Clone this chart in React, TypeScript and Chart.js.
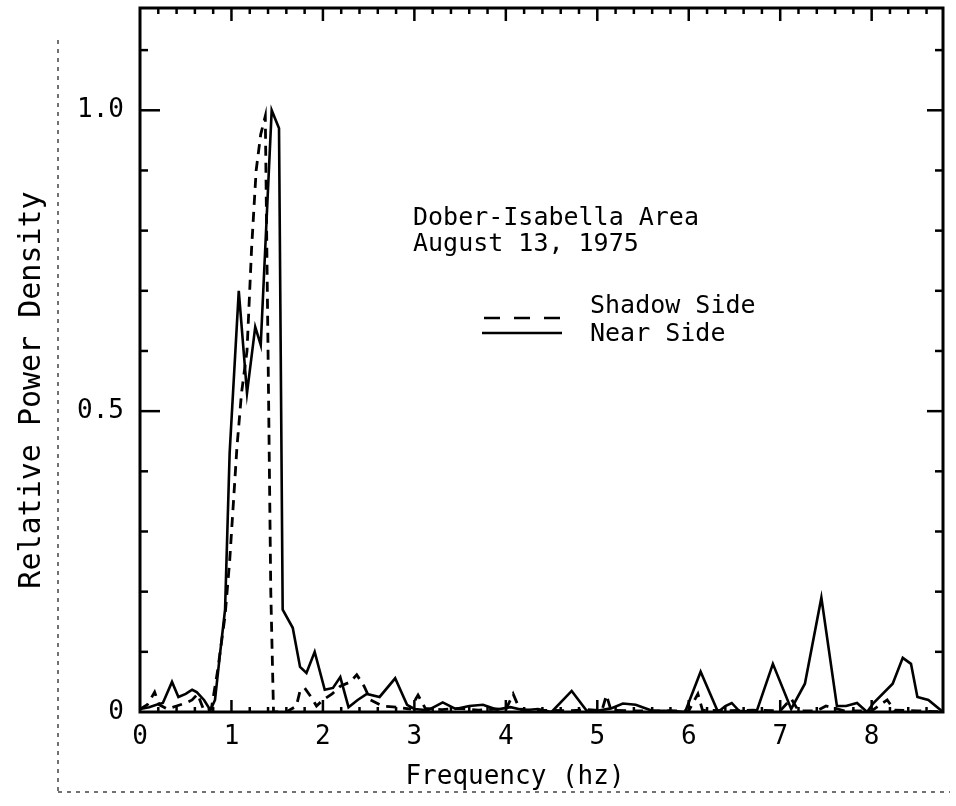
import React, { useEffect, useRef } from "react";
import { Chart, registerables } from "chart.js";

Chart.register(...registerables);

// ---- data ----
const nearFreq = [0, 0.1, 0.18, 0.25, 0.35, 0.42, 0.5, 0.57, 0.62, 0.7, 0.77, 0.82, 0.87, 0.93, 0.98, 1.08, 1.17, 1.26, 1.32, 1.44, 1.52, 1.56, 1.67, 1.75, 1.82, 1.91, 2.02, 2.11, 2.19, 2.28, 2.38, 2.48, 2.62, 2.79, 2.92, 3.0, 3.15, 3.31, 3.45, 3.6, 3.75, 3.9, 4.05, 4.2, 4.35, 4.5, 4.72, 4.88, 5.0, 5.15, 5.28, 5.42, 5.6, 5.8, 5.96, 6.13, 6.32, 6.4, 6.47, 6.55, 6.74, 6.92, 7.12, 7.27, 7.45, 7.62, 7.72, 7.84, 7.95, 8.02, 8.23, 8.34, 8.43, 8.5, 8.62, 8.78];
const nearPower = [0.005, 0.008, 0.012, 0.015, 0.05, 0.025, 0.03, 0.037, 0.033, 0.02, 0.003, 0.02, 0.09, 0.17, 0.43, 0.70, 0.53, 0.64, 0.61, 1.0, 0.97, 0.17, 0.14, 0.075, 0.065, 0.10, 0.037, 0.04, 0.058, 0.008, 0.02, 0.03, 0.025, 0.056, 0.012, 0.005, 0.003, 0.016, 0.005, 0.01, 0.012, 0.004, 0.008, 0.003, 0.005, 0.0, 0.035, 0.003, 0.002, 0.006, 0.014, 0.012, 0.002, 0.002, 0.0, 0.067, 0.0, 0.01, 0.015, 0.002, 0.0, 0.08, 0.005, 0.047, 0.19, 0.01, 0.01, 0.015, 0.0, 0.015, 0.047, 0.09, 0.08, 0.025, 0.02, 0.0];

const shadowFreq = [0, 0.08, 0.16, 0.21, 0.3, 0.4, 0.5, 0.57, 0.63, 0.7, 0.78, 0.85, 0.93, 0.98, 1.06, 1.11, 1.17, 1.22, 1.27, 1.32, 1.37, 1.4, 1.43, 1.46, 1.6, 1.71, 1.75, 1.8, 1.87, 1.93, 2.0, 2.1, 2.19, 2.3, 2.37, 2.45, 2.52, 2.65, 2.8, 2.95, 3.04, 3.12, 3.3, 3.5, 3.7, 3.9, 4.0, 4.08, 4.15, 4.3, 4.5, 4.7, 4.9, 5.05, 5.1, 5.15, 5.4, 5.7, 6.0, 6.1, 6.15, 6.4, 6.7, 7.0, 7.12, 7.2, 7.4, 7.5, 7.7, 8.0, 8.17, 8.25, 8.5, 8.78];
const shadowPower = [0.005, 0.012, 0.033, 0.012, 0.005, 0.01, 0.015, 0.02, 0.03, 0.002, 0.005, 0.07, 0.16, 0.25, 0.44, 0.53, 0.60, 0.77, 0.90, 0.96, 0.99, 0.6, 0.2, 0.0, 0.0, 0.01, 0.035, 0.04, 0.025, 0.01, 0.02, 0.03, 0.043, 0.05, 0.062, 0.043, 0.02, 0.01, 0.008, 0.005, 0.028, 0.006, 0.004, 0.006, 0.003, 0.005, 0.004, 0.03, 0.005, 0.002, 0.003, 0.002, 0.004, 0.002, 0.028, 0.003, 0.002, 0.002, 0.002, 0.03, 0.003, 0.002, 0.003, 0.002, 0.022, 0.002, 0.002, 0.01, 0.002, 0.002, 0.02, 0.003, 0.002, 0.0];

const xTickValues = [0, 1, 2, 3, 4, 5, 6, 7, 8];
const xTickLabels = ["0", "1", "2", "3", "4", "5", "6", "7", "8"];
const yTickValues = [0, 0.5, 1.0];
const yTickLabels = ["0", "0.5", "1.0"];
const seriesNames = ["Shadow Side", "Near Side"];
const noteLines = ["Dober-Isabella Area", "August 13, 1975"];
const xTitle = "Frequency (hz)";
const yTitle = "Relative Power Density";

const FONT = '"DejaVu Sans Mono", "Liberation Mono", monospace';

const toPoints = (xs: number[], ys: number[]) => xs.map((x, i) => ({ x, y: ys[i] }));

const framePlugin = {
  id: "frameTicks",
  afterDraw(chart: any) {
    const { ctx, chartArea: a, scales } = chart;
    const xs = scales.x;
    const ys = scales.y;
    ctx.save();
    ctx.strokeStyle = "#000";
    ctx.lineCap = "butt";
    const seg = (x1: number, y1: number, x2: number, y2: number) => {
      ctx.beginPath();
      ctx.moveTo(x1, y1);
      ctx.lineTo(x2, y2);
      ctx.stroke();
    };
    // frame
    ctx.lineWidth = 3;
    ctx.strokeRect(a.left, a.top, a.right - a.left, a.bottom - a.top);
    // y ticks (both sides, inward)
    ctx.lineWidth = 2.5;
    for (let i = 1; i <= 11; i++) {
      const v = i / 10;
      const py = ys.getPixelForValue(v);
      const major = i % 5 === 0;
      seg(a.left, py, a.left + (major ? 20 : 8), py);
      seg(a.right, py, a.right - (major ? 16 : 8), py);
    }
    // x ticks (top & bottom, inward) every 0.2
    for (let i = 1; i * 0.2 < xs.max; i++) {
      const v = i * 0.2;
      const px = xs.getPixelForValue(v);
      const major = i % 5 === 0;
      seg(px, a.top, px, a.top + (major ? 13 : 6));
      seg(px, a.bottom, px, a.bottom - (major ? 12 : 5));
    }
    ctx.fillStyle = "#000";
    ctx.textBaseline = "middle";
    // axis titles
    ctx.textAlign = "center";
    ctx.font = `26px ${FONT}`;
    ctx.fillText(xTitle, 515, 777);
    ctx.save();
    ctx.translate(32, 390);
    ctx.rotate(-Math.PI / 2);
    ctx.font = `30px ${FONT}`;
    ctx.fillText(yTitle, 0, 0);
    ctx.restore();
    // annotation text
    ctx.textAlign = "left";
    ctx.font = `25px ${FONT}`;
    ctx.fillText(noteLines[0], 413, 218);
    ctx.fillText(noteLines[1], 413, 244);
    ctx.fillText(seriesNames[0], 590, 306);
    ctx.fillText(seriesNames[1], 590, 334);
    // legend samples
    ctx.lineWidth = 2.5;
    ctx.setLineDash([16, 14]);
    seg(484, 318, 562, 318);
    ctx.setLineDash([]);
    seg(482, 333, 562, 333);
    // scan border artifacts
    ctx.strokeStyle = "#444";
    ctx.lineWidth = 1.5;
    ctx.setLineDash([4, 5]);
    seg(58, 40, 58, 792);
    seg(58, 792, 950, 792);
    ctx.restore();
  },
};

export default function App() {
  const ref = useRef<HTMLCanvasElement | null>(null);

  useEffect(() => {
    if (!ref.current) return;
    const chart = new Chart(ref.current, {
      type: "line",
      data: {
        datasets: [
          {
            label: seriesNames[0],
            data: toPoints(shadowFreq, shadowPower),
            borderColor: "#000",
            borderWidth: 2.8,
            borderDash: [10, 7],
            pointRadius: 0,
            tension: 0,
            fill: false,
          },
          {
            label: seriesNames[1],
            data: toPoints(nearFreq, nearPower),
            borderColor: "#000",
            borderWidth: 2.6,
            pointRadius: 0,
            tension: 0,
            fill: false,
          },
        ],
      },
      options: {
        animation: false,
        responsive: true,
        maintainAspectRatio: false,
        devicePixelRatio: 1,
        layout: { autoPadding: false, padding: { left: 0, right: 13, top: 8, bottom: 0 } },
        plugins: {
          legend: { display: false },
          tooltip: { enabled: false },
        },
        scales: {
          x: {
            type: "linear",
            min: 0,
            max: 8.78,
            grid: { display: false, drawTicks: false },
            border: { display: false },
            afterBuildTicks: (s: any) => {
              s.ticks = xTickValues.map((v) => ({ value: v }));
            },
            afterFit: (s: any) => {
              s.height = 94;
              s.paddingLeft = 0;
              s.paddingRight = 0;
              s.paddingTop = 0;
              s.paddingBottom = 0;
            },
            ticks: {
              padding: 10,
              color: "#000",
              font: { family: FONT, size: 26 },
              callback: (v: any) => {
                const i = xTickValues.indexOf(Number(v));
                return i >= 0 ? xTickLabels[i] : "";
              },
            },
            title: { display: false, text: xTitle },
          },
          y: {
            type: "linear",
            min: 0,
            max: 1.17,
            grid: { display: false, drawTicks: false },
            border: { display: false },
            afterBuildTicks: (s: any) => {
              s.ticks = yTickValues.map((v) => ({ value: v }));
            },
            afterFit: (s: any) => {
              s.width = 140;
              s.paddingLeft = 0;
              s.paddingRight = 0;
              s.paddingTop = 0;
              s.paddingBottom = 0;
            },
            ticks: {
              padding: 16,
              color: "#000",
              font: { family: FONT, size: 26 },
              callback: (v: any) => {
                const i = yTickValues.indexOf(Number(v));
                return i >= 0 ? yTickLabels[i] : "";
              },
            },
            title: { display: false, text: yTitle },
          },
        },
      },
      plugins: [framePlugin],
    });
    return () => chart.destroy();
  }, []);

  return (
    <div style={{ position: "fixed", left: 0, top: 0, width: 956, height: 806, background: "#fff" }}>
      <canvas ref={ref} />
    </div>
  );
}
